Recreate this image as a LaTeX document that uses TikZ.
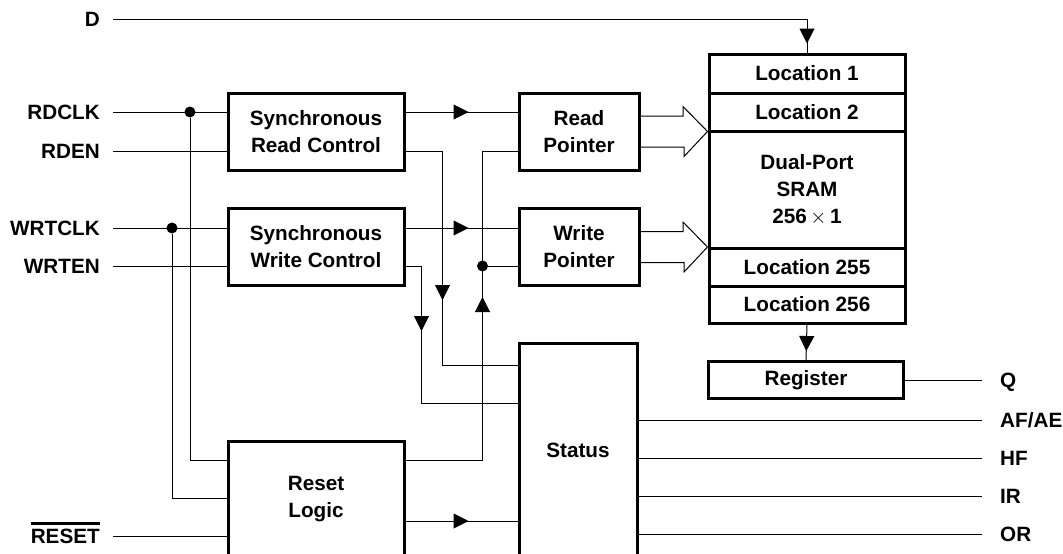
\documentclass[tikz,border=0pt]{standalone}
\usepackage{fontspec}
\setmainfont{Liberation Sans}
\usetikzlibrary{arrows.meta,decorations.markings,calc}
\newcommand{\barsig}[1]{\vbox{\hrule height 2.5pt\kern 4pt\hbox{#1}}}

\begin{document}
\begin{tikzpicture}[x=1pt,y=-1pt,
  every node/.style={font=\bfseries\fontsize{20.7}{27}\selectfont},
  blk/.style={draw, line width=3pt, align=center, inner sep=0pt},
  wire/.style={line width=1pt},
  junc/.style={circle, fill, inner sep=0pt, minimum size=11pt},
  sig/.style={inner sep=0pt, text height=14.8pt, text depth=0pt},
  tri/.style={postaction={decorate}, decoration={markings,
    mark=at position #1 with {\arrow{Triangle[length=15pt,width=15pt]}}}}]
\useasboundingbox (0,0) rectangle (1063,554);

% control blocks
\node[blk, minimum width=176pt, minimum height=77pt] (src) at (316,131.5) {Synchronous\\Read Control};
\node[blk, minimum width=176pt, minimum height=77pt] (swc) at (316,247) {Synchronous\\Write Control};
\node[blk, minimum width=176pt, minimum height=117pt] (rst) at (316,499.5) {Reset\\Logic};
\node[blk, minimum width=120pt, minimum height=77pt] (rptr) at (579,131.5) {Read\\Pointer};
\node[blk, minimum width=120pt, minimum height=77pt] (wptr) at (579,247) {Write\\Pointer};
\node[blk, minimum width=118pt, minimum height=215pt] (status) at (578,450.5) {Status};

% memory
\node[blk, minimum width=196pt, minimum height=39pt] (loc1) at (807,73.5) {Location 1};
\node[blk, minimum width=196pt, minimum height=38pt] (loc2) at (807,112) {Location 2};
\node[blk, minimum width=196pt, minimum height=117pt] (sram) at (807,189.5) {Dual-Port\\SRAM\\256\,$\times$\,1};
\node[blk, minimum width=196pt, minimum height=38pt] (loc255) at (807,267) {Location 255};
\node[blk, minimum width=196pt, minimum height=37pt] (loc256) at (807,304.5) {Location 256};
\node[blk, minimum width=195pt, minimum height=37pt] (reg) at (806,380) {Register};

% signals
\node[sig, anchor=east] (lblD) at (100,19) {D};
\node[sig, anchor=east] (lblRDCLK) at (100,112) {RDCLK};
\node[sig, anchor=east] (lblRDEN) at (100,151) {RDEN};
\node[sig, anchor=east] (lblWRTCLK) at (100,228) {WRTCLK};
\node[sig, anchor=east] (lblWRTEN) at (100,266) {WRTEN};
\node[sig, anchor=east] (lblRESET) at (100,536) {\barsig{RESET}};
\node[sig, anchor=west] (lblQ) at (1000,380) {Q};
\node[sig, anchor=west] (lblAFAE) at (1000,420) {AF/AE};
\node[sig, anchor=west] (lblHF) at (1000,458) {HF};
\node[sig, anchor=west] (lblIR) at (1000,496) {IR};
\node[sig, anchor=west] (lblOR) at (1000,534) {OR};

\node[junc] (dotR) at (190,112) {};
\node[junc] (dotW) at (172,228) {};
\node[junc] (dotP) at (482.5,266) {};

% inputs
\draw[wire, tri=-9pt] ([xshift=13pt]lblD.east) -| (loc1.north);
\draw[wire] ([xshift=13pt]lblRDCLK.east) -- (src.west |- lblRDCLK.east);
\draw[wire] ([xshift=13pt]lblRDEN.east) -- (src.west |- lblRDEN.east);
\draw[wire] ([xshift=13pt]lblWRTCLK.east) -- (swc.west |- lblWRTCLK.east);
\draw[wire] ([xshift=13pt]lblWRTEN.east) -- (swc.west |- lblWRTEN.east);
\draw[wire] ([xshift=13pt]lblRESET.east) -- (rst.west |- lblRESET.east);
\draw[wire] (dotR) |- ([yshift=39.5pt]rst.west);
\draw[wire] (dotW) |- ([yshift=1.5pt]rst.west);

% control to pointers and status
\draw[wire, tri=63pt] (src.east |- lblRDCLK.east) -- (rptr.west |- lblRDCLK.east);
\draw[wire, tri=63pt] (swc.east |- lblWRTCLK.east) -- (wptr.west |- lblWRTCLK.east);
\draw[wire, tri=186pt] (src.east |- lblRDEN.east) -- ++(37,0) |- ([yshift=85.5pt]status.west);
\draw[wire, tri=81pt] (swc.east |- lblWRTEN.east) -- ++(16,0) |- ([yshift=47.5pt]status.west);
\draw[wire, tri=240pt] ([yshift=39.5pt]rst.east) -- ++(77,0) |- (rptr.west |- lblRDEN.east);
\draw[wire] (dotP) -- (wptr.west |- lblWRTEN.east);
\draw[wire, tri=63pt] ([yshift=-21.5pt]rst.east) -- ([yshift=-70.5pt]status.west);

% address buses
\draw[wire] ([yshift=15.5pt]rptr.east) -- ++(42.5,0) -- ++(0,-9.5) -- (rptr.east -| sram.west)
  -- ++(-23.5,25) -- ++(0,-9.5) -- ([yshift=-15.5pt]rptr.east);
\draw[wire] ([yshift=15.5pt]wptr.east) -- ++(42.5,0) -- ++(0,-9.5) -- (wptr.east -| sram.west)
  -- ++(-23.5,25) -- ++(0,-9.5) -- ([yshift=-15.5pt]wptr.east);

% outputs
\draw[wire, tri=-9pt] (loc256.south) -- (reg.north);
\draw[wire] (reg.east) -- ([xshift=-18pt]lblQ.west);
\foreach \s in {AFAE,HF,IR,OR}
  \draw[wire] (status.east |- lbl\s.west) -- ([xshift=-18pt]lbl\s.west);

\end{tikzpicture}
\end{document}
